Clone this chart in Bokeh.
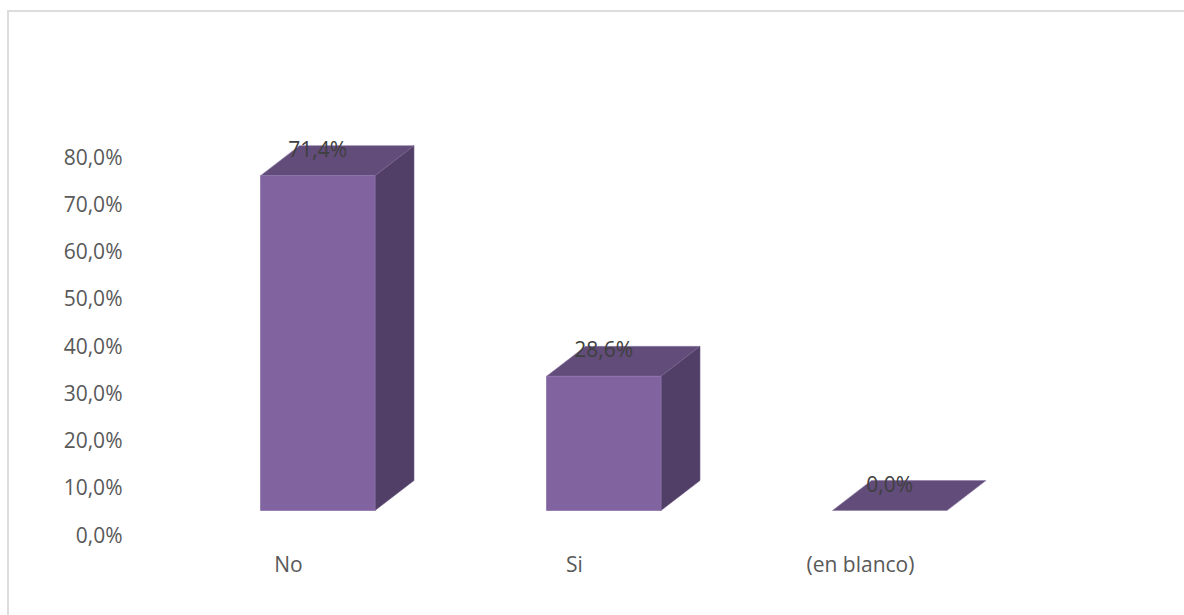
from bokeh.plotting import figure
from bokeh.models import Range1d, LinearAxis, FixedTicker
from bokeh.core.properties import value
from bokeh.embed import file_html
from bokeh.resources import INLINE

categories = ["No", "Si", "(en blanco)"]
values = [71.4, 28.6, 0.0]
y_ticks = [0, 10, 20, 30, 40, 50, 60, 70, 80]
y_tick_labels = ["0,0%", "10,0%", "20,0%", "30,0%", "40,0%", "50,0%", "60,0%", "70,0%", "80,0%"]

# layout (page pixels)
OX, OY = 9, 12           # where the canvas starts on the page
W, H = 1184 - OX, 615 - OY
FL, FR, FT, FB = 130, 1184, 30, 539
STEP = 286.0
BAR_W = 114.5
DX, DY = 39.0, 30.0
FIRST_BAR_X = 317.25
FIRST_LABEL_X = 288.0
BASE_Y, PX_PER_UNIT = 510.0, 4.69
AXIS_ZERO_Y, AXIS_PX_PER_UNIT = 534.0, 4.725
FONT = "Open Sans"
FS = "21px"

x_range = Range1d((FL - FIRST_BAR_X) / STEP, (FR - FIRST_BAR_X) / STEP)
y_range = Range1d((BASE_Y - FB) / PX_PER_UNIT, (BASE_Y - FT) / PX_PER_UNIT)

p = figure(width=W, height=H, x_range=x_range, y_range=y_range,
           output_backend="svg", toolbar_location=None,
           frame_width=FR - FL, frame_height=FB - FT,
           min_border_left=FL - OX, min_border_right=0,
           min_border_top=FT - OY, min_border_bottom=H + OY - FB,
           x_axis_type=None, y_axis_type=None,
           background_fill_color="white", border_fill_color="white",
           outline_line_color=None)
p.grid.visible = False
p.styles = {"border-top": "2px solid #DDDDDD", "border-left": "2px solid #DDDDDD",
            "position": "absolute", "left": "7px", "top": "10px"}

p.extra_y_ranges["ticks"] = Range1d((AXIS_ZERO_Y - FB) / AXIS_PX_PER_UNIT, (AXIS_ZERO_Y - FT) / AXIS_PX_PER_UNIT)
p.extra_x_ranges["cats"] = Range1d((FL - FIRST_LABEL_X) / STEP, (FR - FIRST_LABEL_X) / STEP)

yaxis = LinearAxis(y_range_name="ticks", ticker=FixedTicker(ticks=y_ticks),
                   major_label_overrides=dict(zip(y_ticks, y_tick_labels)))
xaxis = LinearAxis(x_range_name="cats", ticker=FixedTicker(ticks=list(range(len(categories)))),
                   major_label_overrides=dict(enumerate(categories)))
for ax, standoff in ((yaxis, 2), (xaxis, 4)):
    ax.axis_line_color = None
    ax.major_tick_line_color = None
    ax.minor_tick_line_color = None
    ax.major_label_text_color = "#595959"
    ax.major_label_text_font = FONT
    ax.major_label_text_font_size = FS
    ax.major_label_standoff = standoff
p.add_layout(yaxis, "left")
p.add_layout(xaxis, "below")

hw = BAR_W / 2 / STEP
dx = DX / STEP
dy = DY / PX_PER_UNIT
xs = list(range(len(categories)))

# top faces
p.patches([[i - hw, i + hw, i + hw + dx, i - hw + dx] for i in xs],
          [[v, v, v + dy, v + dy] for v in values],
          fill_color="#624C7A", line_color="#8E7BA5", line_width=0.6)
# side faces
side = [i for i, v in zip(xs, values) if v > 0]
sidev = [v for v in values if v > 0]
p.patches([[i + hw, i + hw + dx, i + hw + dx, i + hw] for i in side],
          [[0, dy, v + dy, v] for i, v in zip(side, sidev)],
          fill_color="#523F67", line_color="#6E5C86", line_width=0.6)
# front faces
p.quad(left=[i - hw for i in side], right=[i + hw for i in side], bottom=0, top=sidev,
       fill_color="#80639F", line_color="#8E75AC", line_width=0.8)

# data labels
p.text(x=xs, y=[v + 27 / PX_PER_UNIT for v in values],
       text=[f"{v:.1f}%".replace(".", ",") for v in values],
       text_color="#404040", text_font=value(FONT), text_font_size=value(FS),
       text_align="center", text_baseline="middle")

open("out.html", "w").write(file_html(p, INLINE))
